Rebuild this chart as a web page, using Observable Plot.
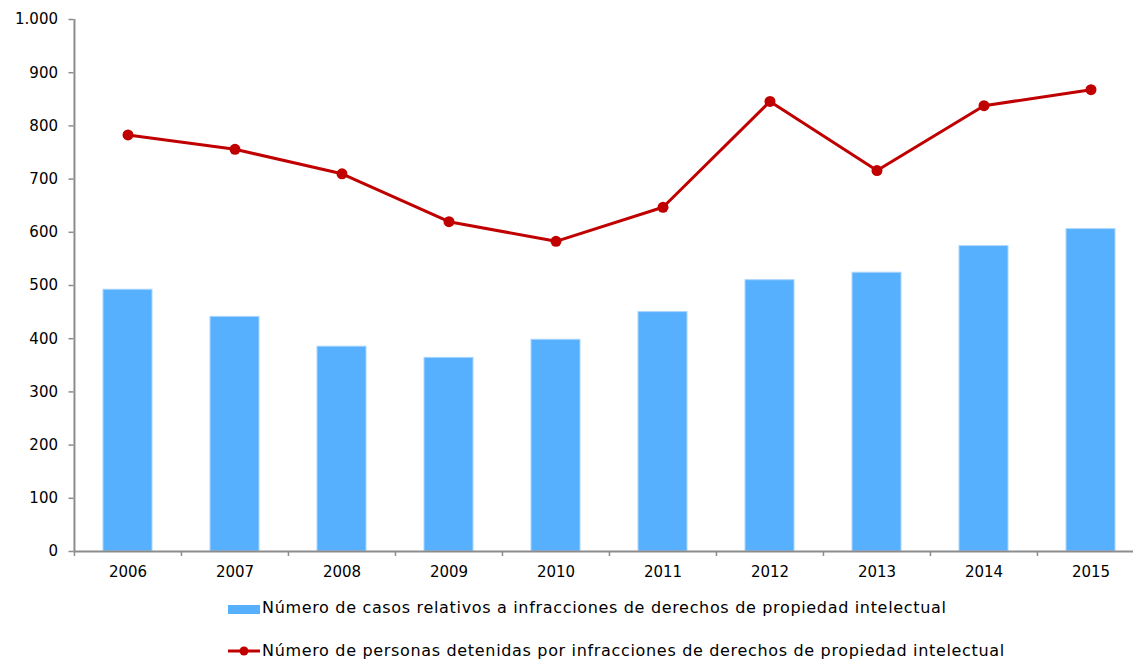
<!DOCTYPE html>
<html>
<head>
<meta charset="utf-8">
<script src="https://cdn.jsdelivr.net/npm/d3@7"></script>
<script src="https://cdn.jsdelivr.net/npm/@observablehq/plot@0.6"></script>
<style>
  html, body { margin: 0; padding: 0; background: #fff; }
  #chart { width: 1133px; height: 659px; overflow: hidden; position: relative; }
  #chart svg { overflow: visible; display: block; }
  .legend { position: absolute; left: 228px; font-family: "DejaVu Sans", sans-serif; font-size: 16px; letter-spacing: 0.67px; color: #000; display: flex; align-items: center; height: 18px; line-height: 18px; white-space: nowrap; }
  .sw { display: inline-block; width: 32px; margin-right: 2px; position: relative; }
</style>
</head>
<body>
<div id="chart"></div>
<script>
const years = ["2006","2007","2008","2009","2010","2011","2012","2013","2014","2015"];
const casos = [492, 441, 385, 364, 398, 450, 510, 524, 574, 606];
const detenidos = [783, 756, 710, 620, 583, 647, 846, 716, 838, 868];
const yTicks = [0,100,200,300,400,500,600,700,800,900,1000];
const labelCasos = "Número de casos relativos a infracciones de derechos de propiedad intelectual";
const labelDetenidos = "Número de personas detenidas por infracciones de derechos de propiedad intelectual";

const barColor = "#57b0fe";
const lineColor = "#c00000";
const axisColor = "#8c8c8c";

const data = years.map((y, i) => ({year: y, casos: casos[i], detenidos: detenidos[i]}));
const fmt = d3.formatLocale({decimal: ",", thousands: ".", grouping: [3], currency: ["", "€"]}).format(",");

const xRange = [73.5, 1144.5];
const step = (xRange[1] - xRange[0]) / years.length;

const plot = Plot.plot({
  width: 1133,
  height: 590,
  marginTop: 19,
  marginBottom: 39,
  marginLeft: 73.5,
  marginRight: 0,
  style: {fontFamily: "'DejaVu Sans', Verdana, sans-serif", fontSize: "15px", color: "#000", background: "#fff"},
  x: {type: "band", domain: years, range: xRange, paddingInner: 0.543, paddingOuter: 0.2715, align: 0.5},
  y: {type: "linear", domain: [0, 1000]},
  marks: [
    Plot.barY(data, {x: "year", y: "casos", fill: barColor, stroke: "#a9d5ff", strokeWidth: 1}),
    Plot.line(data, {x: "year", y: "detenidos", stroke: lineColor, strokeWidth: 3}),
    Plot.dot(data, {x: "year", y: "detenidos", r: 5.5, fill: lineColor, stroke: "none"}),
    Plot.axisY({ticks: yTicks, tickFormat: fmt, tickSize: 5, tickPadding: 11, stroke: axisColor, strokeWidth: 1.5, label: null, fill: "#000"}),
    Plot.ruleX([years[0]], {x: d => d, y1: 0, y2: 1000, dx: -step / 2, stroke: axisColor, strokeWidth: 2}),
    Plot.ruleY([0], {stroke: axisColor, strokeWidth: 2}),
    Plot.ruleX(years, {x: d => d, y1: 0, y2: 0, insetBottom: -5, dx: -step / 2, stroke: axisColor, strokeWidth: 1.5}),
    Plot.axisX({tickSize: 0, tickPadding: 15, label: null, fill: "#000"}),
  ]
});
document.getElementById("chart").appendChild(plot);

// legend
const chart = document.getElementById("chart");
const l1 = document.createElement("div");
l1.className = "legend";
l1.style.top = "599px";
l1.innerHTML = `<span class="sw" style="background:${barColor};height:9px;margin-top:2px"></span><span>${labelCasos}</span>`;
chart.appendChild(l1);
const l2 = document.createElement("div");
l2.className = "legend";
l2.style.top = "642px";
l2.innerHTML = `<span class="sw" style="height:12px"><svg width="32" height="12" style="position:absolute;left:0;top:0"><line x1="0" y1="6" x2="32" y2="6" stroke="${lineColor}" stroke-width="3"/><circle cx="16" cy="6" r="4.5" fill="${lineColor}"/></svg></span><span>${labelDetenidos}</span>`;
chart.appendChild(l2);
</script>
</body>
</html>
